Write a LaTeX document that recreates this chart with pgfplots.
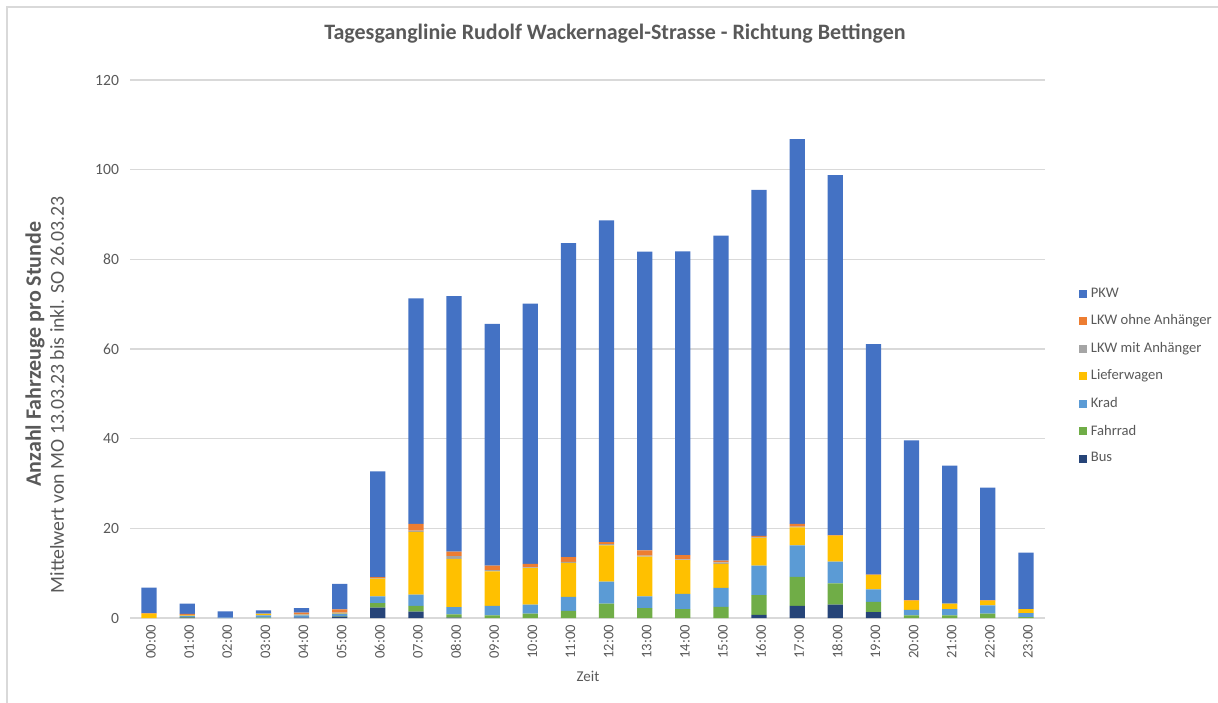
\documentclass[border=0pt]{standalone}
\usepackage{fontspec}
\setmainfont{Carlito}
\usepackage{pgfplots}
\usepackage{pgfplotstable}
\pgfplotsset{compat=1.18}
\usetikzlibrary{calc}
\definecolor{cPKW}{HTML}{4472C4}
\definecolor{cLKWo}{HTML}{ED7D31}
\definecolor{cLKWm}{HTML}{A5A5A5}
\definecolor{cLief}{HTML}{FFC000}
\definecolor{cKrad}{HTML}{5B9BD5}
\definecolor{cFahr}{HTML}{70AD47}
\definecolor{cBus}{HTML}{264478}
\definecolor{txt}{HTML}{595959}
\definecolor{grd}{HTML}{D9D9D9}

% Mittelwerte pro Stunde, Stapelreihenfolge von unten nach oben
\pgfplotstableread{
h  Bus Fahr Krad Lief LKWm LKWo PKW
0  0   0    0    1.0  0    0.1  5.7
1  0.1 0.1  0.3  0.1  0.1  0.2  2.3
2  0   0    0.1  0    0    0    1.4
3  0   0.1  0.5  0.3  0.1  0    0.7
4  0.1 0    0.5  0.1  0.1  0.4  1.0
5  0.3 0.1  0.6  0.1  0.1  0.7  5.7
6  2.3 1.0  1.5  4.0  0.1  0.2  23.6
7  1.4 1.3  2.5  14.0 0.3  1.5  50.3
8  0.1 0.7  1.6  10.8 0.6  1.0  57.0
9  0   0.6  2.1  7.7  0.3  1.0  53.9
10 0   1.0  2.0  8.1  0.2  0.8  58.0
11 0   1.6  3.1  7.6  0.2  1.1  70.0
12 0   3.2  4.9  8.1  0.3  0.4  71.8
13 0   2.2  2.6  8.9  0.2  1.2  66.6
14 0   2.0  3.4  7.5  0.2  0.9  67.8
15 0   2.5  4.2  5.4  0.3  0.4  72.5
16 0.7 4.4  6.6  6.2  0.1  0.3  77.2
17 2.7 6.5  7.0  4.0  0.2  0.6  85.8
18 3.0 4.7  4.9  5.8  0    0.1  80.3
19 1.3 2.3  2.8  3.2  0    0.1  51.4
20 0   0.6  1.2  2.1  0    0.1  35.6
21 0   0.6  1.4  1.2  0    0    30.8
22 0   1.0  1.8  1.1  0    0.1  25.1
23 0   0.2  0.9  0.9  0    0    12.6
}\daten

\begin{document}
\begin{tikzpicture}
\useasboundingbox (-65pt,-42pt) rectangle (544pt,309pt);
\begin{axis}[
  name=ax,
  at={(0pt,0pt)}, anchor=south west,
  scale only axis,
  width=457.5pt, height=269pt,
  ybar stacked,
  bar width=0.4,
  xmin=-0.5, xmax=23.5,
  ymin=0, ymax=120,
  ytick={0,20,...,120},
  xtick=data,
  xticklabels={00:00,01:00,02:00,03:00,04:00,05:00,06:00,07:00,08:00,09:00,10:00,11:00,12:00,13:00,14:00,15:00,16:00,17:00,18:00,19:00,20:00,21:00,22:00,23:00},
  x tick label style={rotate=90,anchor=east,yshift=-1pt,font=\fontsize{7.3}{8}\selectfont,text=txt},
  y tick label style={xshift=-2pt,font=\fontsize{7.8}{9}\selectfont,text=txt},
  /pgf/number format/assume math mode=true,
  xtick pos=bottom,
  major tick length=0pt,
  axis x line*=bottom,
  axis y line*=left,
  x axis line style={draw=grd,line width=0.8pt},
  y axis line style={draw=none},
  ymajorgrids,
  grid style={draw=grd,line width=0.6pt},
  reverse legend,
  legend cell align=left,
  legend image code/.code={\fill[#1] (0pt,-2pt) rectangle (4pt,2pt);},
  legend style={at={(1.03,0.449)},anchor=west,draw=none,fill=none,
    font=\fontsize{7.3}{8}\selectfont,text=txt,row sep=3.2pt},
]
  \addplot[fill=cBus,draw=none] table[x=h,y=Bus]{\daten};
  \addplot[fill=cFahr,draw=none] table[x=h,y=Fahr]{\daten};
  \addplot[fill=cKrad,draw=none] table[x=h,y=Krad]{\daten};
  \addplot[fill=cLief,draw=none] table[x=h,y=Lief]{\daten};
  \addplot[fill=cLKWm,draw=none] table[x=h,y=LKWm]{\daten};
  \addplot[fill=cLKWo,draw=none] table[x=h,y=LKWo]{\daten};
  \addplot[fill=cPKW,draw=none] table[x=h,y=PKW]{\daten};
  \legend{Bus,Fahrrad,Krad,Lieferwagen,LKW mit Anhänger,LKW ohne Anhänger,PKW}
\end{axis}
\draw[grd,line width=0.8pt] (-61.5pt,-44pt) -- (-61.5pt,305.5pt) -- (546pt,305.5pt);
\node[font=\bfseries\fontsize{11}{13}\selectfont,text=txt] at (242.5pt,292pt) {Tagesganglinie Rudolf Wackernagel-Strasse - Richtung Bettingen};
\node[rotate=90,font=\bfseries\fontsize{11}{13}\selectfont,text=txt] at (-47.5pt,132pt) {Anzahl Fahrzeuge pro Stunde};
\node[rotate=90,font=\fontsize{9.9}{12}\selectfont,text=txt] at (-36.5pt,111.5pt) {Mittelwert von MO 13.03.23 bis inkl. SO 26.03.23};
\node[font=\fontsize{7.5}{9}\selectfont,text=txt] at (229pt,-29pt) {Zeit};
\end{tikzpicture}
\end{document}
